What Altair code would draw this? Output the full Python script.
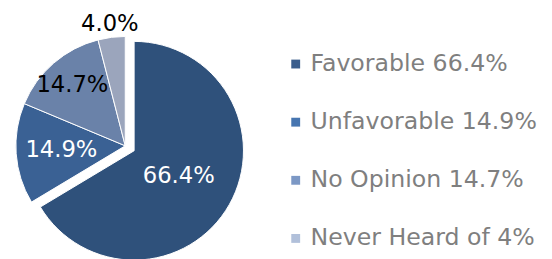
import altair as alt
import pandas as pd

categories = ["Favorable", "Unfavorable", "No Opinion", "Never Heard of"]
values = [66.4, 14.9, 14.7, 4.0]
pie_labels = ["66.4%", "14.9%", "14.7%", "4.0%"]
legend_labels = ["Favorable 66.4%", "Unfavorable 14.9%", "No Opinion 14.7%", "Never Heard of 4%"]

pie_colors = ["#2F517B", "#3A6194", "#6A82A9", "#9BA5BC"]
legend_colors = ["#3A5D8C", "#4675B0", "#7C98C5", "#B1C0DA"]

df = pd.DataFrame({
    "cat": categories,
    "value": values,
    "label": pie_labels,
    "legend": legend_labels,
    "order": list(range(len(categories))),
})

FONT = "DejaVu Sans"
R = 111

base = alt.Chart(df).transform_window(
    cum="sum(value)", sort=[alt.SortField("order")], frame=[None, 0]
).transform_calculate(
    start="datum.cum - datum.value",
    mid="datum.cum - datum.value / 2",
)

theta_scale = alt.Scale(domain=[0, 100], range=[0, 6.283185307])

fill_enc = alt.Fill("cat:N", scale=alt.Scale(domain=categories, range=pie_colors), legend=None)

fav = base.transform_filter("datum.cat == 'Favorable'").mark_arc(
    radius=R, stroke="white", strokeWidth=1
).encode(
    theta=alt.Theta("start:Q", scale=theta_scale),
    theta2="cum:Q",
    fill=fill_enc,
    x=alt.value(128),
    y=alt.value(143),
)

others = base.transform_filter("datum.cat != 'Favorable'").mark_arc(
    radius=R, stroke="white", strokeWidth=1
).encode(
    theta=alt.Theta("start:Q", scale=theta_scale),
    theta2="cum:Q",
    fill=fill_enc,
    x=alt.value(119),
    y=alt.value(138),
)

labels = base.transform_calculate(
    r="datum.value < 5 ? 125 : (datum.order == 0 ? 52 : (datum.order == 1 ? 65 : 82))",
    cx="datum.order == 0 ? 128 : 119",
    cy="datum.order == 0 ? 143 : 138",
).mark_text(font=FONT, fontSize=23).encode(
    theta=alt.Theta("mid:Q", scale=theta_scale),
    radius=alt.Radius("r:Q", scale=None),
    text="label:N",
    x=alt.X("cx:Q", scale=None),
    y=alt.Y("cy:Q", scale=None),
    color=alt.condition("datum.order < 2", alt.value("white"), alt.value("black")),
)

legend_layer = base.mark_square(opacity=0, size=1).encode(
    x=alt.value(0),
    y=alt.value(0),
    color=alt.Color(
        "legend:N",
        scale=alt.Scale(domain=legend_labels, range=legend_colors),
        legend=alt.Legend(
            title=None,
            orient="none",
            legendX=280,
            legendY=43,
            symbolType="square",
            symbolSize=81,
            symbolOpacity=1,
            symbolStrokeWidth=0,
            labelFont=FONT,
            labelFontSize=24,
            labelColor="#7F7F7F",
            labelOffset=3,
            rowPadding=35,
            labelLimit=400,
        ),
    ),
)

chart = alt.layer(fav, others, labels, legend_layer).properties(
    width=544, height=251, padding=0, autosize=alt.AutoSizeParams(type="none")
).configure_view(stroke=None)

chart.save("out.html", embed_options={"renderer": "svg", "actions": False})
